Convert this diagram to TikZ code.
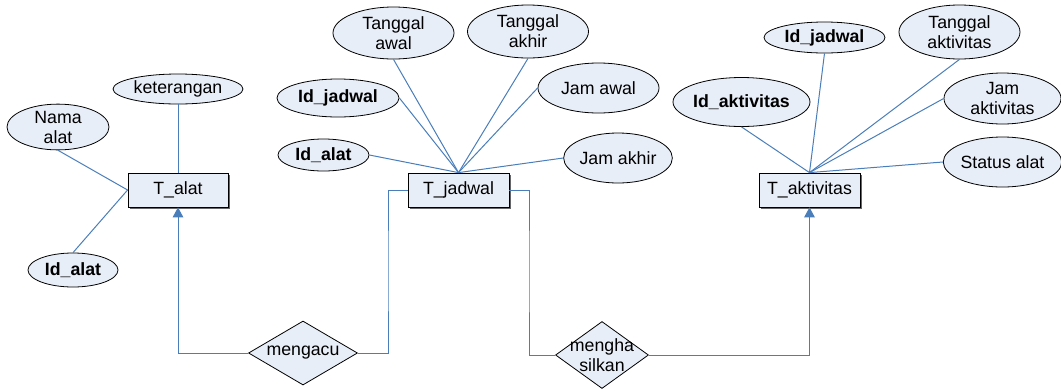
\documentclass[tikz,border=0pt]{standalone}
\usepackage{fontspec}
\setmainfont{Liberation Sans}
\usetikzlibrary{shapes.geometric,arrows.meta,shadows}
\definecolor{ln}{HTML}{4A7EBB}
\definecolor{fl}{HTML}{E8EEF7}
\begin{document}
\begin{tikzpicture}[x=0.75pt,y=-0.75pt,
  every node/.style={font=\fontsize{13.3}{15}\selectfont, align=center, inner sep=0pt},
  attr/.style={ellipse, draw=black, line width=0.6pt, fill=fl},
  ent/.style={rectangle, draw=black, line width=0.6pt, fill=fl, minimum width=75.75pt, minimum height=25.5pt,
     drop shadow={shadow xshift=1.2pt, shadow yshift=-1.2pt, fill=black!60, opacity=1}},
  rel/.style={diamond, draw=black, line width=0.6pt, fill=fl},
  conn/.style={draw=ln, line width=0.75pt},
  arr/.style={conn, -{Triangle[width=8pt,length=7.5pt]}}]
\useasboundingbox (0,0) rectangle (1061,390);
% entities
\node[ent, minimum width=75pt] (talat) at (178,190) {T\_alat};
\node[ent] (tjad) at (458.5,190) {T\_jadwal};
\node[ent] (takt) at (809.5,190) {T\_aktivitas};
% T_alat attributes
\node[attr, minimum width=97.5pt, minimum height=22.5pt] (ket) at (178,89) {keterangan};
\node[attr, minimum width=76.5pt, minimum height=33pt] (nama) at (58,127) {Nama\\alat};
\node[attr, minimum width=67.5pt, minimum height=25.5pt] (idalat1) at (73,270) {\bfseries Id\_alat};
% T_jadwal attributes
\node[attr, minimum width=90.75pt, minimum height=39pt] (tgawal) at (393.5,33) {Tanggal\\awal};
\node[attr, minimum width=90.75pt, minimum height=39.75pt] (tgakhir) at (528,31.5) {Tanggal\\akhir};
\node[attr, minimum width=91.5pt, minimum height=28.5pt] (idjad1) at (338,98) {\bfseries Id\_jadwal};
\node[attr, minimum width=90.75pt, minimum height=37.5pt] (jamawal) at (598.5,88) {Jam awal};
\node[attr, minimum width=68.25pt, minimum height=24pt] (idalat2) at (323.5,155) {\bfseries Id\_alat};
\node[attr, minimum width=75pt, minimum height=37.5pt] (jamakhir) at (618,158) {Jam akhir};
% T_aktivitas attributes
\node[attr, minimum width=90.75pt, minimum height=23.25pt] (idjad2) at (824.5,37.5) {\bfseries Id\_jadwal};
\node[attr, minimum width=90.75pt, minimum height=40.5pt] (tgakt) at (959.5,32) {Tanggal\\aktivitas};
\node[attr, minimum width=102.75pt, minimum height=36.75pt] (idakt) at (741.5,102) {\bfseries Id\_aktivitas};
\node[attr, minimum width=87.75pt, minimum height=38.25pt] (jamakt) at (1002.5,98.5) {Jam\\aktivitas};
\node[attr, minimum width=87.75pt, minimum height=37.5pt] (status) at (1002.5,162) {Status alat};
% relationships
\node[rel, aspect=1.7, minimum width=81.75pt, minimum height=48pt] (mengacu) at (303,353) {mengacu};
\node[rel, aspect=1.39, minimum width=69.75pt, minimum height=50.25pt] (mengh) at (602,355) {};
\node (menghtext) at (mengh.center) {mengha\\silkan};
\coordinate (c1) at (388,270);
\coordinate (c2) at (529,270);
% attribute links
\draw[conn] (ket.south) -- (talat.north);
\draw[conn] (nama.south) -- (talat.west);
\draw[conn] (idalat1.north) -- (talat.west);
\draw[conn] (tgawal.south) -- (tjad.north);
\draw[conn] (tgakhir.south) -- (tjad.north);
\draw[conn] (idjad1.east) -- (tjad.north);
\draw[conn] (jamawal.west) -- (tjad.north);
\draw[conn] (idalat2.east) -- (tjad.north);
\draw[conn] (jamakhir.west) -- (tjad.north);
\draw[conn] (idjad2.south) -- (takt.north);
\draw[conn] (tgakt.south) -- (takt.north);
\draw[conn] (idakt.south) -- (takt.north);
\draw[conn] (jamakt.west) -- (takt.north);
\draw[conn] (status.west) -- (takt.north);
% relationship links
\draw[arr] (mengacu.west) -| (talat.south);
\draw[conn] (mengacu.east) -| (c1) |- (tjad.west);
\draw[conn] (tjad.east) -| (c2) |- (mengh.west);
\draw[arr] (mengh.east) -| (takt.south);
\end{tikzpicture}
\end{document}
